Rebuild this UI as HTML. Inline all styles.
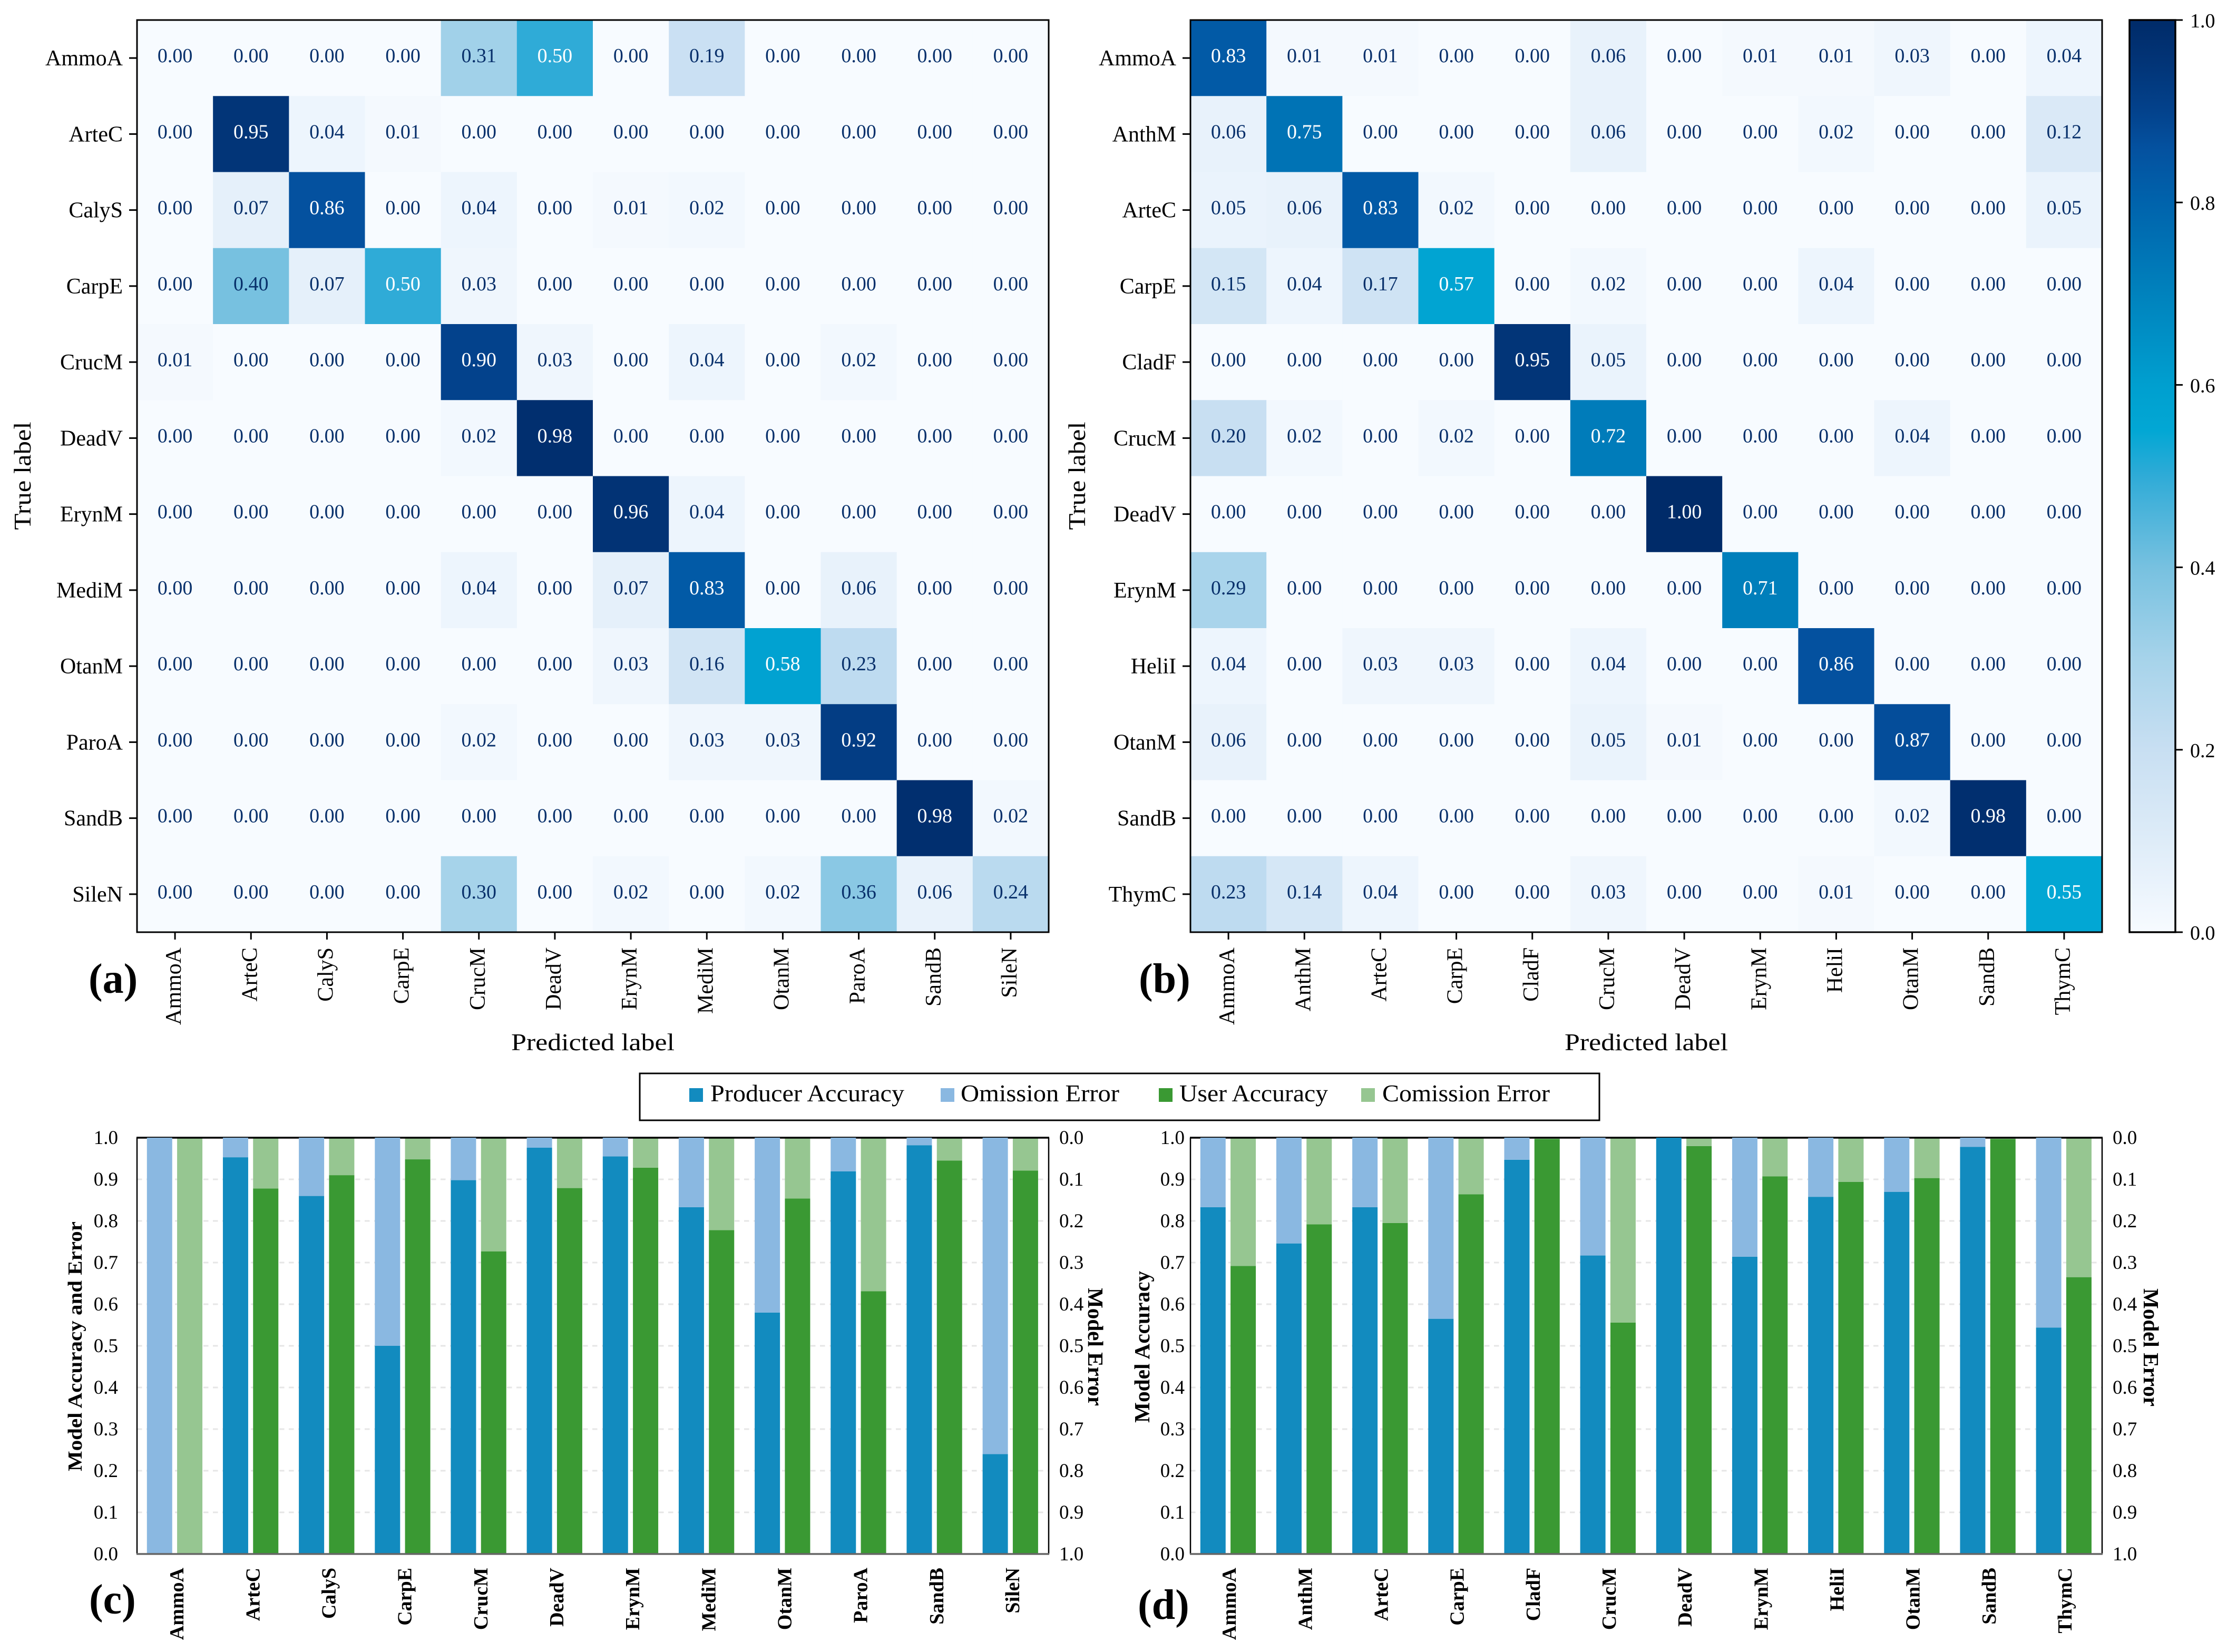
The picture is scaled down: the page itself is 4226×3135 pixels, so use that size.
<!DOCTYPE html>
<html lang="en">
<head>
<meta charset="utf-8">
<title>Confusion matrices and model accuracy</title>
<style>
  html, body { margin: 0; padding: 0; background: #fff; }
  svg { display: block; font-family: "Liberation Serif", "DejaVu Serif", serif; }
</style>
</head>
<body>
<svg id="figure" xmlns="http://www.w3.org/2000/svg" width="4226" height="3135" viewBox="0 0 4226 3135">
  <rect x="0" y="0" width="4226" height="3135" fill="#ffffff"/>
  <defs>
    <linearGradient id="cbar-gradient" x1="0" y1="1" x2="0" y2="0"></linearGradient>
  </defs>
  <g id="layer-charts"></g>

  <text x="168" y="1884" font-size="80" font-weight="700">(a)</text>
  <text x="2161" y="1884" font-size="80" font-weight="700">(b)</text>
  <text x="169" y="3062" font-size="80" font-weight="700">(c)</text>
  <text x="2159" y="3072" font-size="80" font-weight="700">(d)</text>

  <text x="1125" y="1993" font-size="46" text-anchor="middle" textLength="310" lengthAdjust="spacingAndGlyphs">Predicted label</text>
  <text x="3124" y="1993" font-size="46" text-anchor="middle" textLength="310" lengthAdjust="spacingAndGlyphs">Predicted label</text>
  <text transform="translate(58 903) rotate(-90)" font-size="46" text-anchor="middle" textLength="205" lengthAdjust="spacingAndGlyphs">True label</text>
  <text transform="translate(2059 903) rotate(-90)" font-size="46" text-anchor="middle" textLength="205" lengthAdjust="spacingAndGlyphs">True label</text>

  <text transform="translate(155 2792) rotate(-90)" font-size="38" font-weight="700" textLength="474" lengthAdjust="spacingAndGlyphs">Model Accuracy and Error</text>
  <text transform="translate(2181 2700) rotate(-90)" font-size="41" font-weight="700" textLength="288" lengthAdjust="spacingAndGlyphs">Model Accuracy</text>
  <text transform="translate(2065 2444) rotate(90)" font-size="41" font-weight="700" textLength="224" lengthAdjust="spacingAndGlyphs">Model Error</text>
  <text transform="translate(4068 2445) rotate(90)" font-size="41" font-weight="700" textLength="224" lengthAdjust="spacingAndGlyphs">Model Error</text>

  <g>
    <rect x="1214" y="2037" width="1821" height="89" fill="#ffffff" stroke="#000000" stroke-width="3"/>
    <rect x="1308" y="2065" width="26" height="26" fill="#128bbf"/>
    <text x="1348" y="2090" font-size="45" textLength="368" lengthAdjust="spacingAndGlyphs">Producer Accuracy</text>
    <rect x="1785" y="2065" width="26" height="26" fill="#8ab8e1"/>
    <text x="1823" y="2090" font-size="45" textLength="301" lengthAdjust="spacingAndGlyphs">Omission Error</text>
    <rect x="2199" y="2065" width="26" height="26" fill="#3a9933"/>
    <text x="2238" y="2090" font-size="45" textLength="282" lengthAdjust="spacingAndGlyphs">User Accuracy</text>
    <rect x="2583" y="2065" width="26" height="26" fill="#96c691"/>
    <text x="2623" y="2090" font-size="45" textLength="318" lengthAdjust="spacingAndGlyphs">Comission Error</text>
  </g>
</svg>

<script>
// ---------- Data ----------
const categoriesA = ["AmmoA","ArteC","CalyS","CarpE","CrucM","DeadV","ErynM","MediM","OtanM","ParoA","SandB","SileN"];
const categoriesB = ["AmmoA","AnthM","ArteC","CarpE","CladF","CrucM","DeadV","ErynM","HeliI","OtanM","SandB","ThymC"];

const matrixA = [
  [0.00,0.00,0.00,0.00,0.31,0.50,0.00,0.19,0.00,0.00,0.00,0.00],
  [0.00,0.95,0.04,0.01,0.00,0.00,0.00,0.00,0.00,0.00,0.00,0.00],
  [0.00,0.07,0.86,0.00,0.04,0.00,0.01,0.02,0.00,0.00,0.00,0.00],
  [0.00,0.40,0.07,0.50,0.03,0.00,0.00,0.00,0.00,0.00,0.00,0.00],
  [0.01,0.00,0.00,0.00,0.90,0.03,0.00,0.04,0.00,0.02,0.00,0.00],
  [0.00,0.00,0.00,0.00,0.02,0.98,0.00,0.00,0.00,0.00,0.00,0.00],
  [0.00,0.00,0.00,0.00,0.00,0.00,0.96,0.04,0.00,0.00,0.00,0.00],
  [0.00,0.00,0.00,0.00,0.04,0.00,0.07,0.83,0.00,0.06,0.00,0.00],
  [0.00,0.00,0.00,0.00,0.00,0.00,0.03,0.16,0.58,0.23,0.00,0.00],
  [0.00,0.00,0.00,0.00,0.02,0.00,0.00,0.03,0.03,0.92,0.00,0.00],
  [0.00,0.00,0.00,0.00,0.00,0.00,0.00,0.00,0.00,0.00,0.98,0.02],
  [0.00,0.00,0.00,0.00,0.30,0.00,0.02,0.00,0.02,0.36,0.06,0.24]
];
const matrixB = [
  [0.83,0.01,0.01,0.00,0.00,0.06,0.00,0.01,0.01,0.03,0.00,0.04],
  [0.06,0.75,0.00,0.00,0.00,0.06,0.00,0.00,0.02,0.00,0.00,0.12],
  [0.05,0.06,0.83,0.02,0.00,0.00,0.00,0.00,0.00,0.00,0.00,0.05],
  [0.15,0.04,0.17,0.57,0.00,0.02,0.00,0.00,0.04,0.00,0.00,0.00],
  [0.00,0.00,0.00,0.00,0.95,0.05,0.00,0.00,0.00,0.00,0.00,0.00],
  [0.20,0.02,0.00,0.02,0.00,0.72,0.00,0.00,0.00,0.04,0.00,0.00],
  [0.00,0.00,0.00,0.00,0.00,0.00,1.00,0.00,0.00,0.00,0.00,0.00],
  [0.29,0.00,0.00,0.00,0.00,0.00,0.00,0.71,0.00,0.00,0.00,0.00],
  [0.04,0.00,0.03,0.03,0.00,0.04,0.00,0.00,0.86,0.00,0.00,0.00],
  [0.06,0.00,0.00,0.00,0.00,0.05,0.01,0.00,0.00,0.87,0.00,0.00],
  [0.00,0.00,0.00,0.00,0.00,0.00,0.00,0.00,0.00,0.02,0.98,0.00],
  [0.23,0.14,0.04,0.00,0.00,0.03,0.00,0.00,0.01,0.00,0.00,0.55]
];

const producerC  = [0.000,0.953,0.860,0.500,0.898,0.976,0.955,0.833,0.580,0.919,0.982,0.240];
const omissionC  = [1.000,0.047,0.140,0.500,0.102,0.024,0.045,0.167,0.420,0.081,0.018,0.760];
const userC      = [0.000,0.878,0.910,0.948,0.727,0.879,0.928,0.778,0.854,0.631,0.945,0.921];
const comissionC = [1.000,0.122,0.090,0.052,0.273,0.121,0.072,0.222,0.146,0.369,0.055,0.079];

const producerD  = [0.833,0.746,0.833,0.565,0.947,0.717,1.000,0.714,0.858,0.870,0.978,0.544];
const omissionD  = [0.167,0.254,0.167,0.435,0.053,0.283,0.000,0.286,0.142,0.130,0.022,0.456];
const userD      = [0.692,0.792,0.795,0.864,0.997,0.556,0.980,0.907,0.894,0.903,0.997,0.665];
const comissionD = [0.308,0.208,0.205,0.136,0.003,0.444,0.020,0.093,0.106,0.097,0.003,0.335];

const accuracyTicks = [0.0,0.1,0.2,0.3,0.4,0.5,0.6,0.7,0.8,0.9,1.0];
const colorbarTicks = [0.0,0.2,0.4,0.6,0.8,1.0];

const colormapValues = [0,0.05,0.1,0.2,0.3,0.4,0.5,0.55,0.6,0.7,0.8,0.86,0.9,0.95,1];
const colormapColors = ["#f7fbff","#eaf3fc","#deecf8","#c8dff2","#a6d3ea","#77c1e0","#2fabd7","#02a7d4","#009fcf","#0082bd","#0063ac","#04519f","#03428c","#023578","#002b69"];

// ---------- Helpers ----------
const NS = "http://www.w3.org/2000/svg";
const root = document.getElementById("layer-charts");

function make(tag, attrs, parent, content) {
  const el = document.createElementNS(NS, tag);
  for (const k in attrs) el.setAttribute(k, attrs[k]);
  if (content !== undefined) el.textContent = content;
  parent.appendChild(el);
  return el;
}
function slug(s) { return String(s).toLowerCase().replace(/[^a-z0-9]+/g, "-"); }
function hexToRgb(h) { return [parseInt(h.slice(1,3),16), parseInt(h.slice(3,5),16), parseInt(h.slice(5,7),16)]; }
function colorOf(v) {
  const t = Math.max(0, Math.min(1, v));
  for (let i = 1; i < colormapValues.length; i++) {
    if (t <= colormapValues[i]) {
      const f = (t - colormapValues[i-1]) / (colormapValues[i] - colormapValues[i-1]);
      const a = hexToRgb(colormapColors[i-1]), b = hexToRgb(colormapColors[i]);
      return "rgb(" + a.map((c, n) => Math.round(c + (b[n] - c) * f)).join(",") + ")";
    }
  }
  return colormapColors[colormapColors.length - 1];
}

// ---------- Heatmaps ----------
const HEAT_TOP = 38, HEAT_BOTTOM = 1769, HEAT_W = 1730;

function drawHeatmap(panel, left, cats, matrix) {
  const cellW = HEAT_W / cats.length;
  const cellH = (HEAT_BOTTOM - HEAT_TOP) / cats.length;
  const xCell = i => left + i * cellW;
  const yCell = j => HEAT_TOP + j * cellH;

  const g = make("g", {}, root);
  
  

  matrix.forEach((row, j) => {
    row.forEach((v, i) => {
      const cell = make("rect", { x: xCell(i), y: yCell(j), width: cellW + 0.5, height: cellH + 0.5, fill: colorOf(v) }, g);
      
      
    });
  });
  matrix.forEach((row, j) => {
    row.forEach((v, i) => {
      const val = make("text", {
        x: xCell(i) + cellW / 2, y: yCell(j) + cellH / 2 + 8,
        "font-size": 38, "text-anchor": "middle",
        fill: v >= 0.5 ? "#ffffff" : "#08306b"
      }, g, v.toFixed(2));
      
      
    });
  });

  const frame = make("rect", { x: left, y: HEAT_TOP, width: HEAT_W, height: HEAT_BOTTOM - HEAT_TOP, fill: "none", stroke: "#000", "stroke-width": 3 }, g);
  
  

  cats.forEach((c, j) => {
    const cy = yCell(j) + cellH / 2;
    const tick = make("line", { x1: left - 15, x2: left, y1: cy, y2: cy, stroke: "#000", "stroke-width": 3 }, g);
    
    
    const label = make("text", { x: left - 27, y: cy + 14, "font-size": 42, "text-anchor": "end" }, g, c);
    
    
  });
  cats.forEach((c, i) => {
    const cx = xCell(i) + cellW / 2;
    const tick = make("line", { x1: cx, x2: cx, y1: HEAT_BOTTOM, y2: HEAT_BOTTOM + 14, stroke: "#000", "stroke-width": 3 }, g);
    
    
    const label = make("text", { transform: "translate(" + (cx + 11) + " 1798) rotate(-90)", "font-size": 42, "text-anchor": "end" }, g, c);
    
    
  });
}
drawHeatmap("a", 260, categoriesA, matrixA);
drawHeatmap("b", 2259, categoriesB, matrixB);

// ---------- Colorbar ----------
const gradient = document.getElementById("cbar-gradient");
colormapValues.forEach((v, i) => {
  const stop = make("stop", { offset: v, "stop-color": colormapColors[i] }, gradient);
  
  
});
const CB_LEFT = 4041, CB_RIGHT = 4128;
const cbY = v => HEAT_BOTTOM - v * (HEAT_BOTTOM - HEAT_TOP);
const cbGroup = make("g", {}, root);


const cbRect = make("rect", { x: CB_LEFT, y: HEAT_TOP, width: CB_RIGHT - CB_LEFT, height: HEAT_BOTTOM - HEAT_TOP, fill: "url(#cbar-gradient)", stroke: "#000", "stroke-width": 3.5 }, cbGroup);


colorbarTicks.forEach(v => {
  const tick = make("line", { x1: CB_RIGHT, x2: CB_RIGHT + 14, y1: cbY(v), y2: cbY(v), stroke: "#000", "stroke-width": 3 }, cbGroup);
  
  
  const label = make("text", { x: 4156, y: cbY(v) + 14, "font-size": 38 }, cbGroup, v.toFixed(1));
  
  
});

// ---------- Bar charts ----------
const BAR_TOP = 2159, BAR_BOTTOM = 2949, BAR_AREA_W = 1730, BAR_W = 48;
const barY = v => BAR_BOTTOM - v * (BAR_BOTTOM - BAR_TOP);

function drawBars(panel, left, cats, producer, omission, user, comission, labelOffset, rightLabelX, leftLabelRight) {
  const step = BAR_AREA_W / cats.length;
  const center = i => left + (i + 0.5) * step;

  const g = make("g", {}, root);
  
  

  accuracyTicks.forEach(v => {
    if (v > 0 && v < 1) {
      const grid = make("line", { x1: left, x2: left + BAR_AREA_W, y1: barY(v), y2: barY(v), stroke: "#e6e6e6", "stroke-width": 3, "stroke-dasharray": "9.5 8.5" }, g);
      
      
    }
  });

  cats.forEach((c, i) => {
    const x2 = center(i) + 4;
    const uBar = make("rect", { x: x2, y: barY(user[i]), width: BAR_W, height: barY(0) - barY(user[i]), fill: "#3a9933" }, g);
    
    
    const cBar = make("rect", { x: x2, y: barY(user[i] + comission[i]), width: BAR_W, height: barY(user[i]) - barY(user[i] + comission[i]), fill: "#96c691" }, g);
    
    
  });

  const topSpine = make("line", { x1: left - 1, x2: left + BAR_AREA_W + 1, y1: BAR_TOP, y2: BAR_TOP, stroke: "#000", "stroke-width": 3.5 }, g);
  
  
  const leftSpine = make("line", { x1: left, x2: left, y1: BAR_TOP, y2: BAR_BOTTOM, stroke: "#000", "stroke-width": 2.5 }, g);
  
  
  const rightSpine = make("line", { x1: left + BAR_AREA_W, x2: left + BAR_AREA_W, y1: BAR_TOP, y2: BAR_BOTTOM, stroke: "#000", "stroke-width": 2.5 }, g);
  
  

  cats.forEach((c, i) => {
    const x1 = center(i) - 53.3;
    const pBar = make("rect", { x: x1, y: barY(producer[i]), width: BAR_W, height: barY(0) - barY(producer[i]), fill: "#128bbf" }, g);
    
    
    const oBar = make("rect", { x: x1, y: barY(producer[i] + omission[i]), width: BAR_W, height: barY(producer[i]) - barY(producer[i] + omission[i]), fill: "#8ab8e1" }, g);
    
    
    const label = make("text", { transform: "translate(" + (center(i) + labelOffset) + " 2975) rotate(-90)", "font-size": 38, "font-weight": 700, "text-anchor": "end" }, g, c);
    
    
  });

  const bottomSpine = make("line", { x1: left - 1, x2: left + BAR_AREA_W + 1, y1: BAR_BOTTOM, y2: BAR_BOTTOM, stroke: "#666666", "stroke-width": 3.5 }, g);
  
  

  accuracyTicks.forEach(v => {
    const lab = make("text", { x: leftLabelRight, y: barY(v) + 12, "font-size": 37, "text-anchor": "end" }, g, v.toFixed(1));
    
    
    const errLab = make("text", { x: rightLabelX, y: barY(1 - v) + 12, "font-size": 37 }, g, v.toFixed(1));
    
    
  });
}
drawBars("c", 260, categoriesA, producerC, omissionC, userC, comissionC, 16, 2010, 224);
drawBars("d", 2259, categoriesB, producerD, omissionD, userD, comissionD, 14, 4009, 2248);
</script>
</body>
</html>
